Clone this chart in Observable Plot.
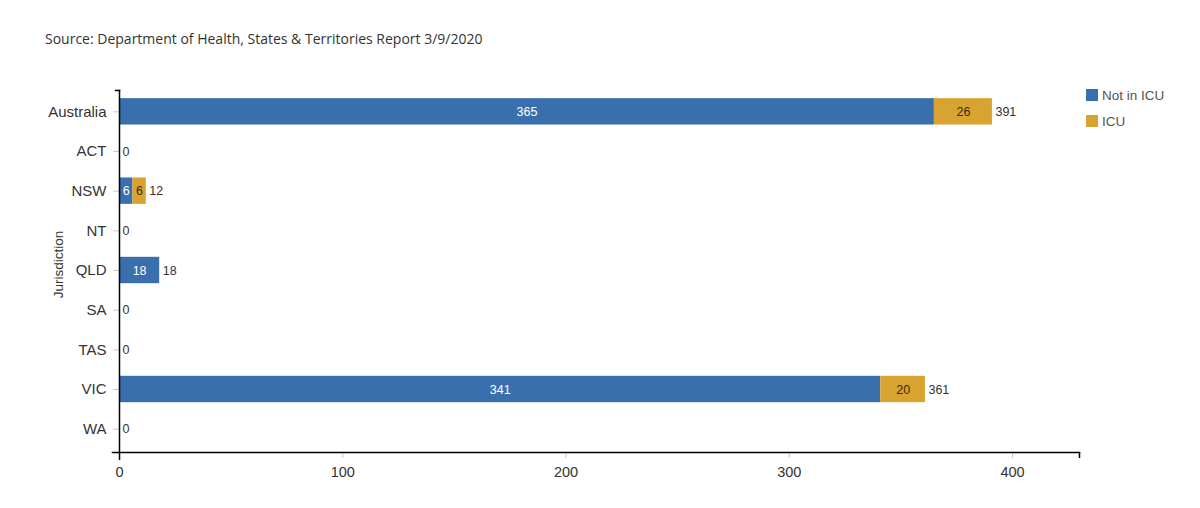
<!DOCTYPE html>
<html><head><meta charset="utf-8">
<script src="https://cdn.jsdelivr.net/npm/d3@7"></script>
<script src="https://cdn.jsdelivr.net/npm/@observablehq/plot@0.6"></script>
<style>
body{margin:0;background:#fff;width:1200px;height:508px;overflow:hidden;position:relative;font-family:Arial,"Liberation Sans",sans-serif;}
#title{position:absolute;left:45px;top:29px;font-family:"Open Sans",sans-serif;font-size:14px;line-height:20px;color:#333;white-space:nowrap;}
#chart{position:absolute;left:0;top:60px;}
#legend{position:absolute;left:1086px;top:88px;font-family:Arial,"Liberation Sans",sans-serif;font-size:13.5px;color:#555;}
#legend .row{display:flex;align-items:center;height:14px;margin-bottom:12px;}
#legend .sw{width:12px;height:12px;margin-right:4px;}
</style></head><body>
<div id="title">Source: Department of Health, States &amp; Territories Report 3/9/2020</div>
<div id="chart"></div>
<div id="legend"></div>
<script>
const jurisdictions = ["Australia", "ACT", "NSW", "NT", "QLD", "SA", "TAS", "VIC", "WA"];
const notInICU = [365, 0, 6, 0, 18, 0, 0, 341, 0];
const icu = [26, 0, 6, 0, 0, 0, 0, 20, 0];
const seriesNames = ["Not in ICU", "ICU"];
const seriesColors = ["#3a6fae", "#d9a331"];
const xTicks = [0, 100, 200, 300, 400];
const xMax = 430;

const rows = [];
jurisdictions.forEach((j, i) => {
  rows.push({jurisdiction: j, series: seriesNames[0], value: notInICU[i], start: 0});
  rows.push({jurisdiction: j, series: seriesNames[1], value: icu[i], start: notInICU[i]});
});
const segs = rows.filter(d => d.value > 0);
const totals = jurisdictions.map((j, i) => ({jurisdiction: j, total: notInICU[i] + icu[i]}));

const chart = Plot.plot({
  width: 1200,
  height: 448,
  marginLeft: 119,
  marginRight: 121,
  marginTop: 30,
  marginBottom: 56,
  style: {fontFamily: "Arial, 'Liberation Sans', sans-serif", background: "#fff"},
  x: {domain: [0, xMax], axis: null},
  y: {domain: jurisdictions, paddingInner: 0.335, paddingOuter: 0.1675, insetTop: 1.5, insetBottom: 3.5, round: false, axis: null},
  color: {domain: seriesNames, range: seriesColors},
  marks: [
    Plot.barX(segs, {y: "jurisdiction", x1: "start", x2: d => d.start + d.value, fill: "series"}),
    Plot.text(segs.filter(d => d.series === "Not in ICU"), {y: "jurisdiction", x: d => d.start + d.value / 2, text: d => String(d.value), fill: "#fff", fontSize: 12.5}),
    Plot.text(segs.filter(d => d.series === "ICU"), {y: "jurisdiction", x: d => d.start + d.value / 2, text: d => String(d.value), fill: "#3b2a0c", fontSize: 12.5}),
    Plot.text(totals, {y: "jurisdiction", x: "total", text: d => String(d.total), textAnchor: "start", dx: 3, fill: "#333", fontSize: 12.5}),
    // y axis
    Plot.axisY({tickSize: 6, stroke: "#c8c8c8", text: null, label: null}),
    Plot.axisY({tickSize: 0, tickPadding: 13, fill: "#333", fontSize: 15, label: null}),
    Plot.text(["Jurisdiction"], {frameAnchor: "left", textAnchor: "middle", rotate: -90, dx: -61, dy: -7, fontSize: 13.5, fill: "#333"}),
    // x axis
    Plot.axisX({ticks: xTicks, tickSize: 6, stroke: "#c8c8c8", text: null, label: null}),
    Plot.axisX({ticks: xTicks, tickSize: 6, tickPadding: 8, tickFormat: d => String(d), fill: "#333", fontSize: 14.5, stroke: "none", label: null}),
    Plot.axisX({ticks: [0], tickSize: 8, stroke: "#000", strokeWidth: 1.5, text: null, label: null}),
    Plot.axisX({ticks: [xMax], tickSize: 6, stroke: "#000", strokeWidth: 1.5, text: null, label: null}),
    Plot.frame({anchor: "bottom", insetLeft: -7, stroke: "#000", strokeWidth: 1.5}),
    Plot.frame({anchor: "left", stroke: "#000", strokeWidth: 1.5}),
    Plot.frame({anchor: "top", insetLeft: -4, insetRight: 960, stroke: "#000", strokeWidth: 1.5})
  ]
});
document.getElementById("chart").appendChild(chart);

const legend = document.getElementById("legend");
seriesNames.forEach((name, i) => {
  const row = document.createElement("div");
  row.className = "row";
  const sw = document.createElement("div");
  sw.className = "sw";
  sw.style.background = seriesColors[i];
  const label = document.createElement("span");
  label.textContent = name;
  row.appendChild(sw);
  row.appendChild(label);
  legend.appendChild(row);
});
</script>
</body></html>
